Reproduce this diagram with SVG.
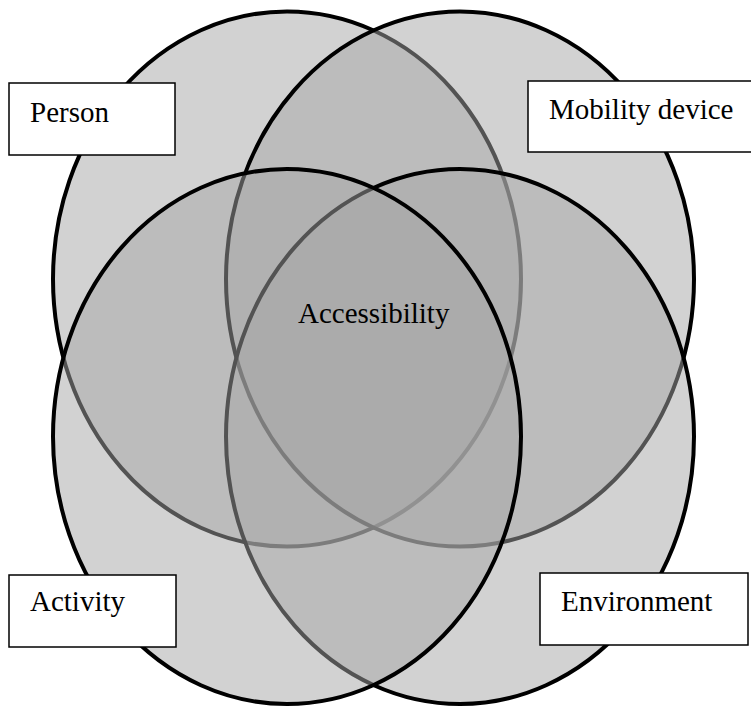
<svg xmlns="http://www.w3.org/2000/svg" width="751" height="709" viewBox="0 0 751 709">
  <style>
    .set { fill: #a5a5a5; fill-opacity: 0.5; stroke: #000; stroke-width: 4; }
    .box { fill: #fff; stroke: #000; stroke-width: 1.5; }
  </style>
  <rect width="751" height="709" fill="#fff"/>
  <g id="circles">
    <ellipse id="person-set" class="set" cx="287" cy="279" rx="234" ry="267.5"/>
    <ellipse id="mobility-set" class="set" cx="460" cy="279" rx="234" ry="267.5"/>
    <ellipse id="environment-set" class="set" cx="460" cy="436.5" rx="234" ry="267.5"/>
    <ellipse id="activity-set" class="set" cx="287" cy="436.5" rx="234" ry="267.5"/>
  </g>
  <g font-family="Liberation Serif, DejaVu Serif, serif" font-size="29" fill="#000">
    <g id="accessibility">
      <text x="298" y="323">Accessibility</text>
    </g>
    <g id="person">
      <rect class="box" x="9" y="83" width="166" height="72"/>
      <text x="30" y="122">Person</text>
    </g>
    <g id="mobility-device">
      <rect class="box" x="528" y="81" width="230" height="71"/>
      <text x="549" y="119">Mobility device</text>
    </g>
    <g id="activity">
      <rect class="box" x="9" y="575" width="167" height="72"/>
      <text x="30" y="611">Activity</text>
    </g>
    <g id="environment">
      <rect class="box" x="540" y="573" width="208" height="72"/>
      <text x="561" y="611">Environment</text>
    </g>
  </g>
</svg>
